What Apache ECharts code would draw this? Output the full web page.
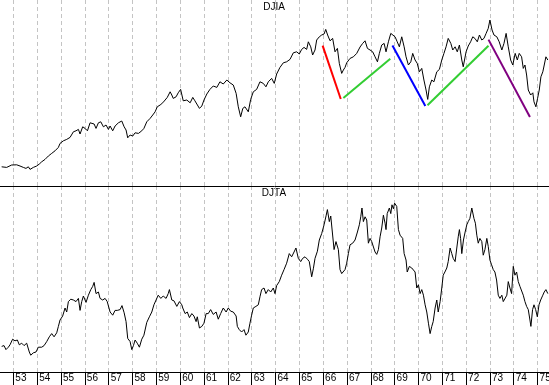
<!DOCTYPE html>
<html><head><meta charset="utf-8">
<script src="https://cdn.jsdelivr.net/npm/echarts@6/dist/echarts.min.js"></script>
<style>html,body{margin:0;padding:0;background:#fff}#c{width:549px;height:385px}</style>
</head><body><div id="c"></div>
<script>
const yearTicks = [53,54,55,56,57,58,59,60,61,62,63,64,65,66,67,68,69,70,71,72,73,74,75];

const djiaT = [52.51,52.72,52.79,52.93,53.00,53.14,53.28,53.42,53.53,53.63,
53.70,53.84,53.98,54.09,54.19,54.33,54.47,54.61,54.75,54.89,
54.96,55.10,55.24,55.38,55.52,55.63,55.73,55.80,55.91,56.01,
56.11,56.22,56.29,56.39,56.47,56.57,56.67,56.78,56.89,56.99,
57.06,57.17,57.27,57.41,57.55,57.65,57.73,57.80,57.90,58.01,
58.11,58.25,58.39,58.48,58.60,58.74,58.85,58.95,59.04,59.16,
59.27,59.37,59.46,59.58,59.65,59.71,59.83,59.92,60.02,60.13,
60.28,60.42,60.53,60.62,60.70,60.81,60.91,61.00,61.12,61.25,
61.39,61.54,61.67,61.81,61.96,62.09,62.23,62.35,62.44,62.54,
62.63,62.72,62.86,62.96,63.07,63.21,63.35,63.49,63.60,63.70,
63.84,63.95,64.05,64.19,64.33,64.47,64.61,64.75,64.89,65.00,
65.10,65.20,65.31,65.38,65.48,65.56,65.66,65.73,65.84,65.94,
66.04,66.11,66.19,66.29,66.40,66.50,66.60,66.68,66.78,66.85,
66.92,66.99,67.13,67.27,67.41,67.55,67.66,67.76,67.86,67.97,
68.08,68.18,68.28,68.36,68.46,68.56,68.64,68.74,68.84,68.92,
69.02,69.11,69.20,69.30,69.40,69.48,69.58,69.68,69.76,69.86,
69.95,70.04,70.14,70.23,70.32,70.39,70.46,70.56,70.65,70.77,
70.88,70.98,71.07,71.16,71.25,71.36,71.44,71.54,71.63,71.72,
71.82,71.88,72.00,72.09,72.19,72.28,72.37,72.47,72.56,72.66,
72.75,72.84,72.93,73.00,73.09,73.17,73.29,73.39,73.50,73.59,
73.68,73.77,73.87,73.96,74.06,74.15,74.23,74.33,74.40,74.47,
74.54,74.61,74.71,74.80,74.85,74.93,75.00,75.07,75.14,75.22,
75.28,75.35,75.43];
const djiaV = [316,313,306,325,333,326,320,313,308,316,
303,313,320,330,341,353,370,383,396,413,
433,446,453,463,491,496,503,480,516,508,
496,536,545,530,508,536,541,516,525,503,
520,496,520,536,545,516,500,461,475,470,
486,483,496,508,541,558,575,591,616,625,
636,650,663,691,675,658,666,686,703,646,
650,636,663,646,653,608,620,650,680,703,
720,713,741,730,750,736,725,683,616,566,
608,616,591,653,691,703,741,733,716,741,
758,733,780,813,836,841,853,886,891,880,
903,913,903,941,916,875,900,950,966,975,
980,1003,975,946,958,891,908,833,783,800,
813,836,858,866,883,915,933,946,908,900,
891,866,841,883,925,933,891,941,983,991,
966,941,916,966,916,866,825,841,883,850,
833,791,808,750,700,653,716,750,741,791,
803,850,883,916,958,933,900,916,891,925,
850,816,891,920,941,966,958,941,975,950,
958,983,1008,1050,1000,975,966,941,900,933,
983,916,850,825,883,850,883,866,808,825,
775,700,675,686,641,616,658,700,766,791,
825,866,850];

const djtaT = [52.51,52.61,52.69,52.79,52.86,52.97,53.07,53.17,53.25,53.35,
53.45,53.56,53.67,53.73,53.84,53.95,54.05,54.19,54.29,54.40,
54.51,54.61,54.71,54.82,54.89,54.96,55.07,55.17,55.24,55.31,
55.41,55.52,55.63,55.73,55.80,55.87,55.94,56.05,56.15,56.25,
56.33,56.39,56.47,56.57,56.64,56.75,56.85,56.94,57.06,57.17,
57.27,57.36,57.48,57.56,57.65,57.73,57.80,57.90,57.97,58.04,
58.11,58.20,58.29,58.39,58.48,58.60,58.71,58.81,58.90,58.99,
59.08,59.19,59.29,59.41,59.50,59.55,59.65,59.74,59.86,59.97,
60.07,60.11,60.21,60.30,60.39,60.49,60.58,60.67,60.72,60.81,
60.91,61.00,61.09,61.18,61.28,61.39,61.51,61.60,61.70,61.81,
61.93,62.02,62.12,62.23,62.35,62.40,62.48,62.58,62.68,62.76,
62.86,62.93,63.00,63.07,63.18,63.28,63.35,63.42,63.52,63.60,
63.70,63.80,63.91,63.98,64.05,64.16,64.26,64.36,64.47,64.58,
64.68,64.78,64.86,64.96,65.06,65.14,65.24,65.34,65.42,65.52,
65.59,65.66,65.76,65.84,65.94,66.04,66.13,66.18,66.26,66.32,
66.40,66.46,66.54,66.64,66.71,66.78,66.85,66.92,66.99,67.06,
67.13,67.24,67.34,67.44,67.52,67.58,67.63,67.69,67.76,67.83,
67.90,67.97,68.04,68.11,68.18,68.25,68.32,68.39,68.46,68.53,
68.60,68.64,68.69,68.78,68.84,68.89,68.95,69.00,69.09,69.16,
69.23,69.34,69.40,69.48,69.53,69.62,69.72,69.79,69.86,69.93,
70.00,70.07,70.14,70.21,70.28,70.35,70.42,70.49,70.56,70.62,
70.70,70.77,70.83,70.91,70.98,71.04,71.11,71.19,71.25,71.33,
71.40,71.46,71.54,71.61,71.67,71.72,71.77,71.82,71.89,71.96,
72.03,72.09,72.16,72.24,72.28,72.33,72.39,72.45,72.51,72.58,
72.66,72.72,72.79,72.87,72.93,73.00,73.07,73.14,73.21,73.28,
73.35,73.42,73.50,73.56,73.63,73.71,73.77,73.84,73.91,73.98,
74.05,74.12,74.19,74.26,74.33,74.40,74.47,74.54,74.61,74.68,
74.72,74.79,74.85,74.92,74.99,75.06,75.13,75.22,75.28,75.35,
75.43];
const djtaV = [97,98,93,96,99,106,104,105,99,101,
98,101,90,86,89,90,96,96,98,103,
109,113,109,114,122,130,135,145,140,153,
156,155,153,157,142,153,160,152,161,168,
172,177,163,165,157,155,157,153,140,136,
142,142,143,148,139,128,107,103,93,98,
105,101,96,106,111,127,134,140,149,155,
161,157,160,157,163,168,155,154,147,153,
149,145,138,140,133,138,135,128,134,120,
122,126,138,138,143,137,140,131,138,145,
140,145,141,140,135,122,118,115,118,111,
115,126,136,145,147,149,159,168,170,163,
168,165,170,163,173,178,186,193,201,213,
209,215,220,207,203,207,209,206,203,184,
194,207,216,230,238,249,261,268,253,260,
259,218,228,218,193,188,186,193,201,213,
224,226,230,240,249,259,270,253,259,255,
226,232,228,230,215,212,218,234,245,261,
251,243,263,270,263,274,269,276,272,243,
236,232,213,205,190,197,195,197,190,170,
174,163,168,161,149,140,126,113,122,128,
145,155,140,153,170,186,190,195,203,220,
213,207,203,220,234,243,232,213,230,240,
249,253,257,270,272,257,251,236,226,232,
228,211,218,232,222,205,199,193,190,180,
161,157,161,153,155,161,178,170,163,197,
186,190,178,172,170,161,153,147,143,130,
122,143,149,143,134,149,155,161,165,168,
163];

const redT = [65.98, 66.74],    redV = [922, 655];
const green1T = [66.85, 68.82], green1V = [660, 856];
const blueT = [68.91, 70.29],   blueV = [922, 620];
const green2T = [70.38, 72.94], green2V = [624, 921];
const purpleT = [72.94, 74.68], purpleV = [952, 565];

function zip(a, b) { const n = Math.min(a.length, b.length); const r = []; for (let i = 0; i < n; i++) r.push([a[i], b[i]]); return r; }

const chart = echarts.init(document.getElementById('c'), null, {renderer: 'canvas'});
const FONT = 'Liberation Sans';
const gridLine = {show: true, lineStyle: {color: '#c4c4c4', type: [4, 3], width: 1}};
function seg(t, v, color) {
  return {type: 'line', xAxisIndex: 0, yAxisIndex: 0, data: zip(t, v), showSymbol: false, symbol: 'none',
    lineStyle: {color: color, width: 2}, z: 5, silent: true};
}
chart.setOption({
  animation: false,
  backgroundColor: '#ffffff',
  grid: [
    {left: -10.49, right: -12.4, top: 0, height: 186, outerBoundsMode: 'none', containLabel: false},
    {left: -10.49, right: -12.4, top: 186, height: 186, outerBoundsMode: 'none', containLabel: false}
  ],
  xAxis: [
    {type: 'value', gridIndex: 0, min: 52, max: 76, interval: 1,
     axisLine: {show: true, onZero: false, lineStyle: {color: '#000', width: 1}},
     axisTick: {show: false}, axisLabel: {show: false}, splitLine: gridLine},
    {type: 'value', gridIndex: 1, min: 52, max: 76, interval: 1,
     axisLine: {show: true, onZero: false, lineStyle: {color: '#000', width: 1}},
     axisTick: {show: true, length: 13, lineStyle: {color: '#000'}},
     axisLabel: {show: true, align: 'left', margin: 1, padding: [0, 0, 0, 2], fontSize: 10, fontFamily: FONT, color: '#000',
       formatter: v => yearTicks.includes(v) ? String(v) : ''},
     splitLine: gridLine}
  ],
  yAxis: [
    {type: 'value', gridIndex: 0, min: 220, max: 1150, show: false, splitLine: {show: false}},
    {type: 'value', gridIndex: 1, min: 65, max: 297.5, show: false, splitLine: {show: false}}
  ],
  graphic: [
    {type: 'text', x: 274, y: 7.5, style: {text: 'DJIA', fill: '#000', font: '10px ' + FONT, align: 'center', verticalAlign: 'middle'}},
    {type: 'text', x: 274, y: 193.5, style: {text: 'DJTA', fill: '#000', font: '10px ' + FONT, align: 'center', verticalAlign: 'middle'}}
  ],
  series: [
    {type: 'line', name: 'DJIA', xAxisIndex: 0, yAxisIndex: 0, data: zip(djiaT, djiaV), showSymbol: false, symbol: 'none',
     lineStyle: {color: '#000', width: 1}, z: 3, silent: true},
    {type: 'line', name: 'DJTA', xAxisIndex: 1, yAxisIndex: 1, data: zip(djtaT, djtaV), showSymbol: false, symbol: 'none',
     lineStyle: {color: '#000', width: 1}, z: 3, silent: true},
    seg(redT, redV, '#ff0000'),
    seg(green1T, green1V, '#32cd32'),
    seg(blueT, blueV, '#0000ff'),
    seg(green2T, green2V, '#32cd32'),
    seg(purpleT, purpleV, '#800080')
  ]
});
</script>
</body></html>
